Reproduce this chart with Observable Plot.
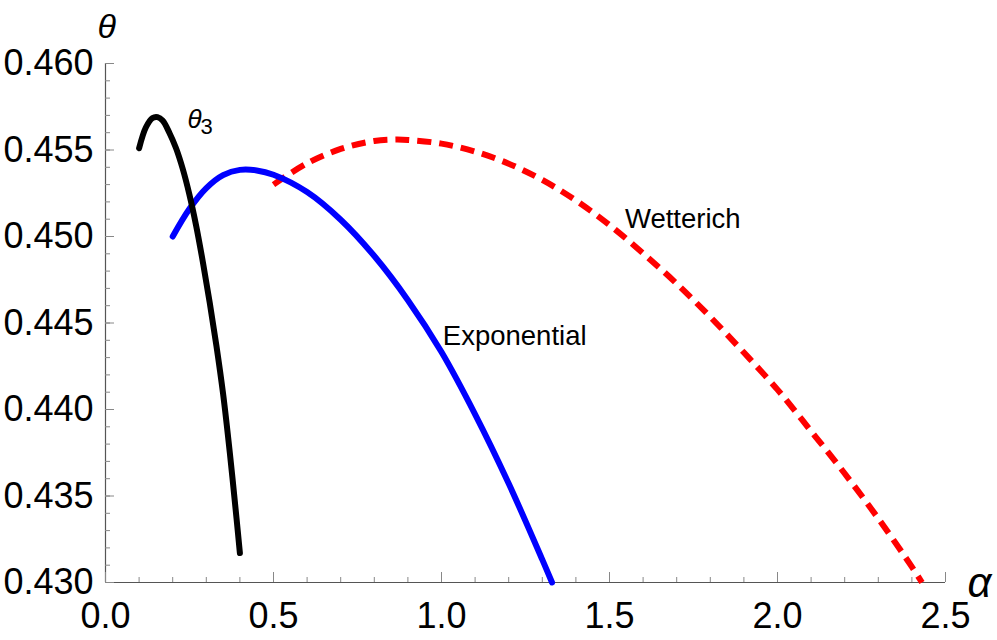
<!DOCTYPE html>
<html><head><meta charset="utf-8">
<script src="https://cdn.jsdelivr.net/npm/d3@7"></script>
<script src="https://cdn.jsdelivr.net/npm/@observablehq/plot@0.6"></script>
<style>body{margin:0;background:#fff}</style>
</head><body><div id="chart"></div>
<script>
// θ3 curve
const theta3Alpha = [0.10, 0.12, 0.14, 0.155, 0.17, 0.19, 0.21, 0.23, 0.25, 0.27, 0.29, 0.31, 0.33, 0.35, 0.37, 0.39, 0.40];
const theta3Theta = [0.4551, 0.4563, 0.45685, 0.4569, 0.4567, 0.4560, 0.4551, 0.4539, 0.4524, 0.4506, 0.4485, 0.4462, 0.4437, 0.4409, 0.4375, 0.4337, 0.4317];
// Exponential curve
const expAlpha = [0.2, 0.25, 0.3, 0.35, 0.4, 0.45, 0.5, 0.6, 0.7, 0.8, 0.9, 1.0, 1.1, 1.2, 1.3, 1.329];
const expTheta = [0.4500, 0.4516, 0.4528, 0.45355, 0.45385, 0.45382, 0.45357, 0.45257, 0.45097, 0.44887, 0.44632, 0.44332, 0.43972, 0.43572, 0.43132, 0.4300];
// Wetterich curve
const wetAlpha = [0.5, 0.6, 0.7, 0.8, 0.86, 0.9, 1.0, 1.1, 1.2, 1.3, 1.4, 1.5, 1.6, 1.7, 1.8, 1.9, 2.0, 2.1, 2.2, 2.3, 2.4, 2.43];
const wetTheta = [0.45300, 0.45423, 0.45506, 0.45552, 0.45560, 0.45558, 0.45537, 0.45491, 0.45421, 0.45327, 0.45208, 0.45066, 0.44903, 0.44727, 0.44535, 0.44329, 0.44115, 0.43875, 0.4363, 0.4337, 0.4309, 0.4300];

const xTicks = [0.0, 0.5, 1.0, 1.5, 2.0, 2.5];
const yTicks = [0.430, 0.435, 0.440, 0.445, 0.450, 0.455, 0.460];
const xMinor = d3.range(0, 26).map(i => i / 10);
const yMinor = d3.range(0, 31).map(i => 0.430 + i / 1000);

// curve labels
const labelText = ["Exponential", "Wetterich"];
const labelAlpha = [1.004, 1.546];
const labelTheta = [0.44424, 0.45100];

const toRows = (xs, ys) => xs.map((x, i) => ({x, y: ys[i]}));
const labels = labelText.map((t, i) => ({t, x: labelAlpha[i], y: labelTheta[i]}));

const W = 997, H = 640, mL = 105, mR = 52, mT = 63, mB = 58;
const pw = W - mL - mR, ph = H - mT - mB;

const chart = Plot.plot({
  width: W, height: H,
  marginLeft: mL, marginRight: mR, marginTop: mT, marginBottom: mB,
  style: {fontFamily: "'Liberation Sans', Arial, sans-serif", background: "white", overflow: "visible", color: "black"},
  x: {domain: [0, 2.5]},
  y: {domain: [0.430, 0.460]},
  marks: [
    // axis lines
    Plot.ruleY([0.430], {stroke: "#555", strokeWidth: 1.2}),
    Plot.ruleX([0], {stroke: "#555", strokeWidth: 1.2}),
    // inward ticks
    Plot.ruleX(xMinor, {stroke: "#888", insetTop: ph - 5}),
    Plot.ruleX(xTicks, {stroke: "#888", insetTop: ph - 10}),
    Plot.ruleY(yMinor, {stroke: "#888", insetRight: pw - 5}),
    Plot.ruleY(yTicks, {stroke: "#888", insetRight: pw - 9}),
    Plot.axisX({ticks: xTicks, tickSize: 0, tickPadding: 20, tickFormat: d3.format(".1f"), fontSize: 36, label: null}),
    Plot.axisY({ticks: yTicks, tickSize: 0, tickPadding: 12, tickFormat: d3.format(".3f"), fontSize: 36, label: null}),
    // curves
    Plot.line(toRows(wetAlpha, wetTheta), {x: "x", y: "y", stroke: "#ff0000", strokeWidth: 6, strokeDasharray: "14,8", strokeLinecap: "butt", curve: "catmull-rom"}),
    Plot.line(toRows(expAlpha, expTheta), {x: "x", y: "y", stroke: "#0000ff", strokeWidth: 6, curve: "catmull-rom"}),
    Plot.line(toRows(theta3Alpha, theta3Theta), {x: "x", y: "y", stroke: "black", strokeWidth: 6, curve: "catmull-rom"}),
    // labels
    Plot.text(labels, {x: "x", y: "y", text: "t", textAnchor: "start", fontSize: 27.5, fill: "black"}),
    Plot.text(["θ"], {x: [0.244], y: [0.45678], text: d => d, textAnchor: "start", fontSize: 26, fontStyle: "italic", fill: "black"}),
    Plot.text(["3"], {x: [0.283], y: [0.45636], text: d => d, textAnchor: "start", fontSize: 22, fill: "black"}),
    // axis labels
    Plot.text(["θ"], {frameAnchor: "top-left", text: d => d, dx: -8, dy: -26, lineAnchor: "bottom", fontSize: 34, fontStyle: "italic", fill: "black"}),
    Plot.text(["α"], {frameAnchor: "bottom-right", text: d => d, dx: 22, dy: 14, lineAnchor: "bottom", textAnchor: "start", fontSize: 42, fontStyle: "italic", fill: "black"})
  ]
});
document.getElementById("chart").appendChild(chart);
</script>
</body></html>
